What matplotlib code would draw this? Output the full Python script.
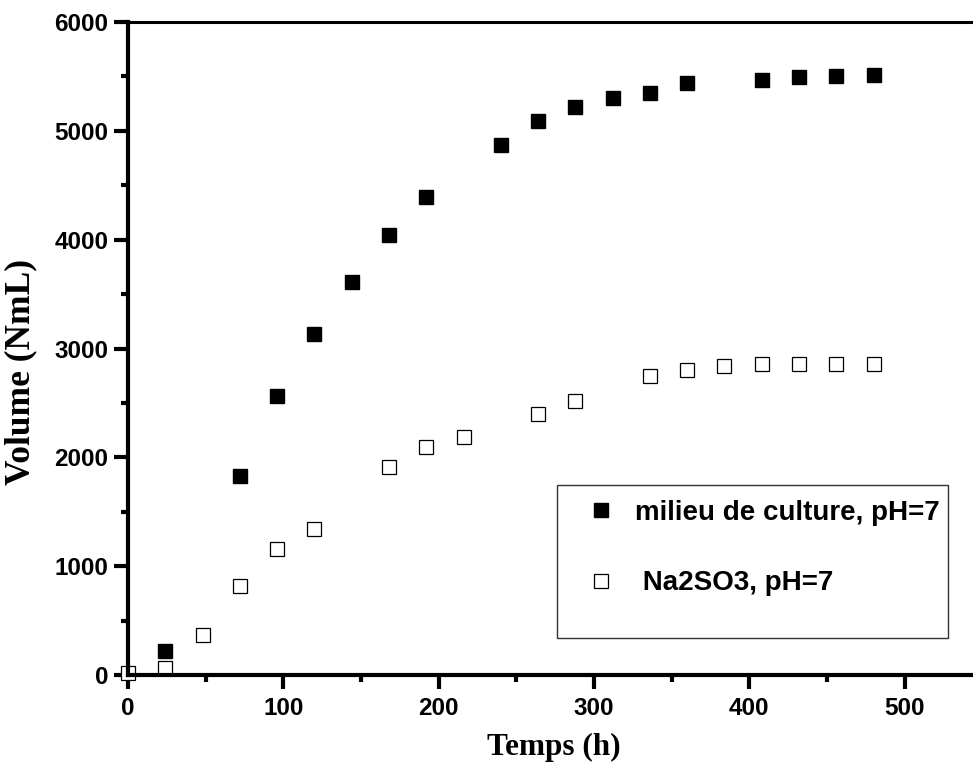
import numpy as np
import matplotlib.pyplot as plt
from matplotlib.patches import Rectangle
from matplotlib.ticker import MultipleLocator

# volume de biogaz cumule (NmL) en fonction du temps (h)
t_milieu = [24, 72, 96, 120, 144, 168, 192, 240, 264, 288, 312, 336, 360, 408, 432, 456, 480]
v_milieu = [220, 1830, 2565, 3130, 3610, 4040, 4390, 4870, 5090, 5220, 5305, 5345, 5435, 5470, 5495, 5505, 5510]

t_na2so3 = [0, 24, 48, 72, 96, 120, 168, 192, 216, 264, 288, 336, 360, 384, 408, 432, 456, 480]
v_na2so3 = [20, 60, 370, 820, 1155, 1345, 1915, 2095, 2190, 2395, 2520, 2745, 2800, 2835, 2855, 2860, 2860, 2860]

labels = ['milieu de culture, pH=7', ' Na2SO3, pH=7']

fig = plt.figure(figsize=(9.73, 7.76), dpi=100)
ax = fig.add_axes([128/973, 101/776, 845/973, 653/776])

l1, = ax.plot(t_milieu, v_milieu, 's', color='black', markersize=10, clip_on=False, zorder=3)
l2, = ax.plot(t_na2so3, v_na2so3, 's', markerfacecolor='white', markeredgecolor='black',
              markersize=9.6, markeredgewidth=0.9, clip_on=False, zorder=3)

ax.set_xlim(0, 544)
ax.set_ylim(0, 6000)
ax.xaxis.set_major_locator(MultipleLocator(100))
ax.xaxis.set_minor_locator(MultipleLocator(50))
ax.yaxis.set_major_locator(MultipleLocator(1000))
ax.yaxis.set_minor_locator(MultipleLocator(500))

ax.spines['right'].set_visible(False)
ax.spines['left'].set_linewidth(3)
ax.spines['bottom'].set_linewidth(3)
ax.spines['top'].set_linewidth(2.2)
for s in ax.spines.values():
    s.set_zorder(4)

ax.tick_params(which='major', direction='out', length=10, width=3, top=False, right=False)
ax.tick_params(which='minor', direction='out', length=5, width=3, top=False, right=False)
ax.tick_params(axis='x', which='major', pad=6)
ax.tick_params(axis='y', which='major', pad=4)
for lab in ax.get_xticklabels() + ax.get_yticklabels():
    lab.set_fontfamily('Liberation Sans')
    lab.set_fontweight('bold')
    lab.set_fontsize(17.5)

fig.text(554/973, 1 - 747/776, 'Temps (h)', fontfamily='Liberation Serif', fontweight='bold',
         fontsize=22.5, ha='center', va='center')
fig.text(21/973, 1 - 372/776, 'Volume (NmL)', fontfamily='Liberation Serif', fontweight='bold',
         fontsize=25.5, ha='center', va='center', rotation=90)

# cadre de la legende
ax.add_patch(Rectangle((0.508, 0.057), 0.462, 0.234, transform=ax.transAxes,
                       facecolor='white', edgecolor='#333333', linewidth=1.0, zorder=2))
leg = ax.legend([l1, l2], labels, loc='upper left', bbox_to_anchor=((587 - 128)/845, (675 - 500)/653),
                frameon=False, borderpad=0, handlelength=1.0, handletextpad=0.73,
                labelspacing=1.6, borderaxespad=0,
                prop={'family': 'Liberation Sans', 'weight': 'bold', 'size': 20})
leg.set_zorder(5)

fig.savefig('out.png', dpi=100)
